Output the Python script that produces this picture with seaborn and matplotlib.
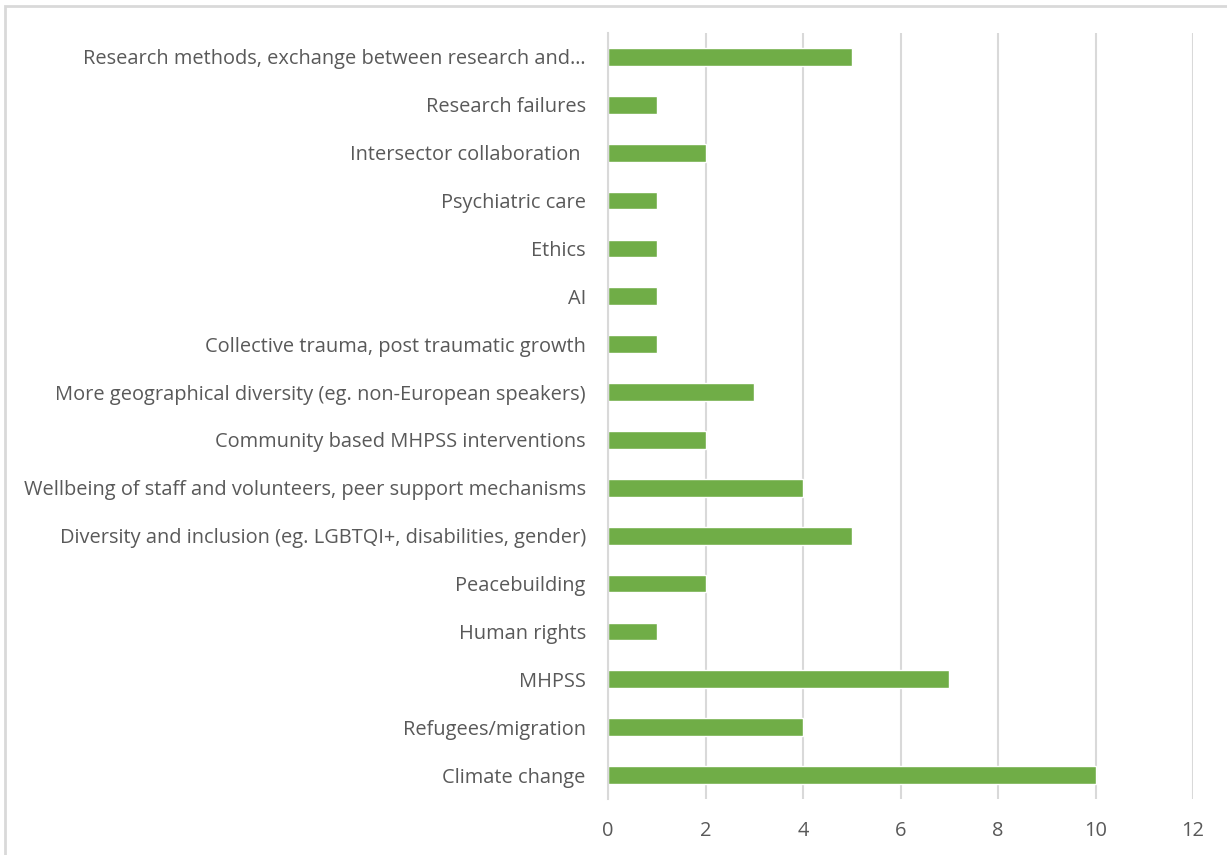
import matplotlib
matplotlib.use("Agg")
import matplotlib.pyplot as plt
import seaborn as sns
import pandas as pd
from matplotlib.patches import Rectangle

categories = [
    "Research methods, exchange between research and…",
    "Research failures",
    "Intersector collaboration ",
    "Psychiatric care",
    "Ethics",
    "AI",
    "Collective trauma, post traumatic growth",
    "More geographical diversity (eg. non-European speakers)",
    "Community based MHPSS interventions",
    "Wellbeing of staff and volunteers, peer support mechanisms",
    "Diversity and inclusion (eg. LGBTQI+, disabilities, gender)",
    "Peacebuilding",
    "Human rights",
    "MHPSS",
    "Refugees/migration",
    "Climate change",
]
values = [5, 1, 2, 1, 1, 1, 1, 3, 2, 4, 5, 2, 1, 7, 4, 10]
xticks = [0, 2, 4, 6, 8, 10, 12]

df = pd.DataFrame({"topic": categories, "count": values})

sns.set_theme(style="white")
plt.rcParams["font.family"] = ["Open Sans", "DejaVu Sans"]

fig = plt.figure(figsize=(12.27, 8.55), dpi=100)
ax = fig.add_axes([608/1227, 1 - 799/855, (1193-608)/1227, (799-33)/855])

sns.barplot(data=df, y="topic", x="count", orient="h", color="#70AD47",
            width=0.37, saturation=1, ax=ax, order=categories)

ax.set_xlim(0, 12)
ax.set_xticks(xticks)
ax.set_xticklabels([str(t) for t in xticks])
ax.set_xlabel("")
ax.set_ylabel("")
ax.xaxis.grid(True, color="#D9D9D9", linewidth=1.5)
ax.set_axisbelow(True)
for s in ["top", "right", "bottom"]:
    ax.spines[s].set_visible(False)
ax.spines["left"].set_color("#D9D9D9")
ax.spines["left"].set_linewidth(1.5)
ax.tick_params(axis="both", length=0, colors="#595959", labelsize=14.4)
ax.tick_params(axis="y", pad=16)
ax.tick_params(axis="x", pad=16)

fig.patches.append(Rectangle((5/1227, -0.1), 1.2, 1 - 6/855 + 0.1,
                             transform=fig.transFigure, fill=False,
                             edgecolor="#D9D9D9", linewidth=2))

fig.savefig("out.png", dpi=100, facecolor="white")
